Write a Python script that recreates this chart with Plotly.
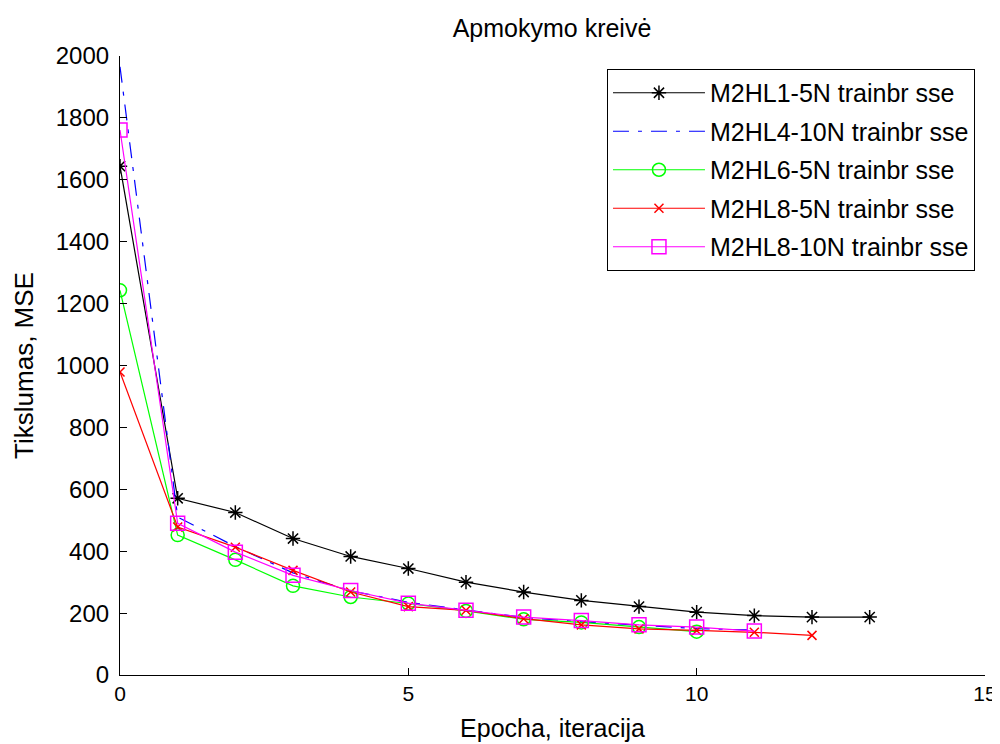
import plotly.graph_objects as go

epochs = list(range(14))
names = ["M2HL1-5N trainbr sse", "M2HL4-10N trainbr sse", "M2HL6-5N trainbr sse",
         "M2HL8-5N trainbr sse", "M2HL8-10N trainbr sse"]
m2hl1_5n = [1644, 571, 525, 441, 383, 344, 300, 268, 241, 221, 203, 192, 187, 187]
m2hl4_10n = [1965, 510, 415, 330, 272, 235, 210, 186, 172, 160, 150, 145]
m2hl6_5n = [1243, 452, 372, 288, 252, 231, 207, 180, 170, 155, 140]
m2hl8_5n = [979, 478, 413, 338, 268, 221, 209, 182, 162, 149, 144, 138, 128]
m2hl8_10n = [1761, 490, 397, 322, 273, 232, 209, 187, 176, 162, 155, 142]
x_ticks = [0, 5, 10, 15]
y_ticks = list(range(0, 2001, 200))

FONT = "Liberation Sans, Arial, sans-serif"

fig = go.Figure()
styles = [
    dict(color="black", symbol="asterisk-open", size=12, dash="solid"),
    dict(color="#0000ff", symbol=None, size=0, dash="16px,9px,4px,9px"),
    dict(color="#00ff00", symbol="circle-open", size=13, dash="solid"),
    dict(color="#ff0000", symbol="x-thin-open", size=9, dash="solid"),
    dict(color="#ff00ff", symbol="square-open", size=14, dash="solid"),
]
series = [m2hl1_5n, m2hl4_10n, m2hl6_5n, m2hl8_5n, m2hl8_10n]
for i, (nm, ys, st) in enumerate(zip(names, series, styles)):
    kw = dict(
        x=epochs[:len(ys)], y=ys, name=nm, legendgroup=str(i),
        line=dict(color=st["color"], width=1.2, dash=st["dash"]),
    )
    if st["symbol"]:
        kw["mode"] = "lines+markers"
        kw["marker"] = dict(symbol=st["symbol"], size=st["size"], color=st["color"],
                            line=dict(color=st["color"], width=1.5))
    else:
        kw["mode"] = "lines"
    fig.add_trace(go.Scatter(**kw))

fig.update_layout(
    width=1000, height=744,
    paper_bgcolor="white", plot_bgcolor="white",
    margin=dict(l=112, r=23, t=48, b=77, autoexpand=False),
    font=dict(family=FONT, size=20, color="black"),
    title=dict(text="Apmokymo kreivė", x=0.544, xanchor="center", y=0.973, yanchor="middle",
               font=dict(family=FONT, size=25)),
    showlegend=True,
    legend=dict(x=0.9884, y=0.979, xanchor="right", yanchor="top",
                bordercolor="black", borderwidth=1, bgcolor="white",
                traceorder="grouped", tracegroupgap=3, itemwidth=92,
                font=dict(family=FONT, size=25)),
    xaxis=dict(range=[0, 15], tickvals=x_ticks, ticks="inside", ticklen=7,
               tickcolor="black", showline=True, linecolor="black", linewidth=1.2,
               showgrid=False, zeroline=False, mirror=False, automargin=False,
               tickfont=dict(family=FONT, size=21),
               title=dict(text="Epocha, iteracija", standoff=15,
                          font=dict(family=FONT, size=25))),
    yaxis=dict(range=[0, 2000], tickvals=y_ticks, ticks="inside", ticklen=7,
               tickcolor="black", showline=True, linecolor="black", linewidth=1.2,
               showgrid=False, zeroline=False, mirror=False, automargin=False,
               ticklabelstandoff=5,
               tickfont=dict(family=FONT, size=24),
               title=dict(text="Tikslumas, MSE", standoff=14,
                          font=dict(family=FONT, size=26))),
)

fig.write_html("out.html")
